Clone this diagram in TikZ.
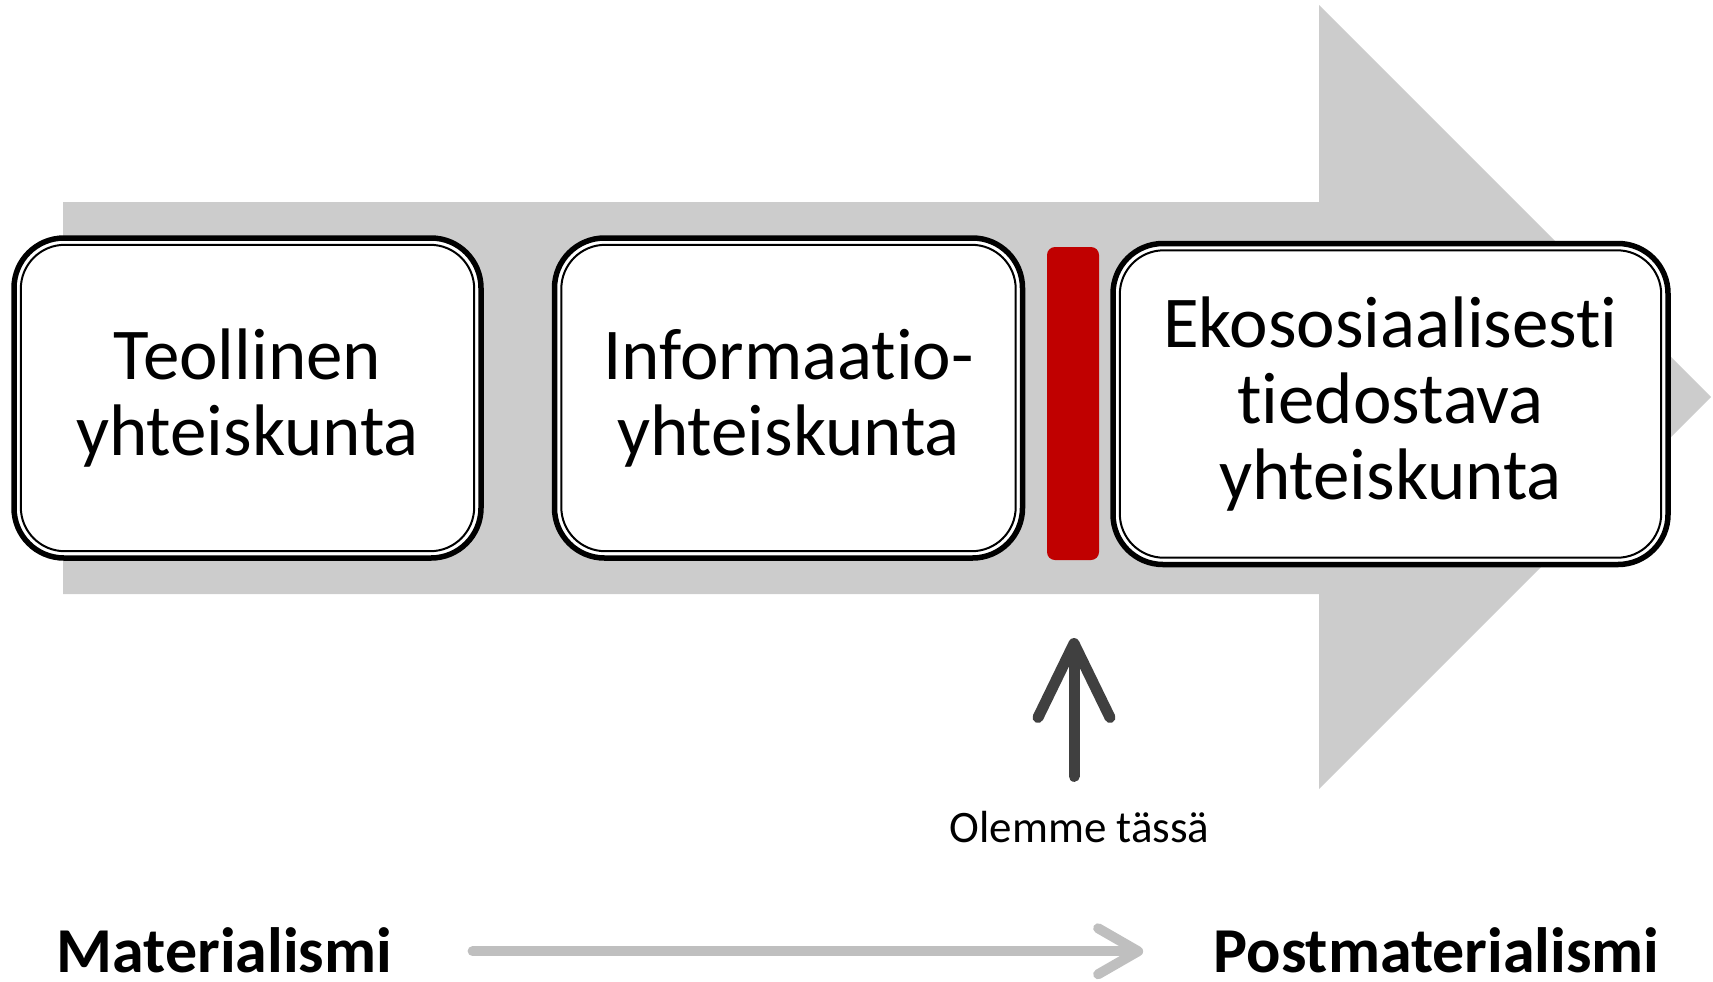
\documentclass[tikz,border=0pt]{standalone}
\usepackage{fontspec}
\setmainfont{Carlito}[Ligatures={NoCommon}]
\usetikzlibrary{arrows.meta}

\definecolor{bandgray}{HTML}{CCCCCC}
\definecolor{nowred}{HTML}{C00000}
\definecolor{heregray}{HTML}{404040}
\definecolor{linegray}{HTML}{BFBFBF}

\begin{document}
\begin{tikzpicture}[x=0.5pt,y=-0.5pt,
    stage/.style={draw=black,fill=white,line width=2.75pt,rounded corners=25pt,
                  outer sep=0pt,align=center,font=\fontsize{36.5}{38}\selectfont},
    inner line/.style={draw=black,line width=1pt,rounded corners=22pt},
    end label/.style={font=\fontsize{32}{34}\selectfont\bfseries,inner sep=0pt,
                      text height=20.75pt,text depth=0pt}]
  \useasboundingbox (0,0) rectangle (1713,981);
  \tikzstyle{here arrow}=[heregray,line width=5.5pt,line cap=round,
                          -{Straight Barb[length=37pt,width=36pt,round]}]
  \tikzstyle{time arrow}=[linegray,line width=5pt,line cap=round,
                          -{Straight Barb[length=20pt,width=23pt,round]}]

  % big grey arrow
  \fill[bandgray] (63,202) -- (1319,202) -- (1319,5) -- (1711,397)
                  -- (1319,789) -- (1319,594) -- (63,594) -- cycle;

  \node[stage,minimum width=233.5pt,minimum height=160pt] (T) at (247.5,398)
       {Teollinen\\yhteiskunta};
  \node[stage,minimum width=234pt,minimum height=160pt]   (I) at (788.5,398)
       {Informaatio-\\yhteiskunta};
  \node[stage,minimum width=277.5pt,minimum height=160.5pt] (E) at (1390.5,404)
       {Ekososiaalisesti\\tiedostava\\yhteiskunta};
  \foreach \b in {T,I,E}
    \draw[inner line] ([shift={(3.4pt,3.4pt)}]\b.south west)
                      rectangle ([shift={(-3.4pt,-3.4pt)}]\b.north east);

  \node[fill=nowred,rounded corners=4pt,minimum width=26pt,minimum height=156.5pt,
        inner sep=0pt] (now) at (1073,403.5) {};

  \node[font=\fontsize{22.5}{24}\selectfont,inner sep=0pt,anchor=base] (here text)
       at (1079.5,842) {Olemme tässä};
  \coordinate (here) at (1074,638);
  \draw[here arrow,shorten <=17pt] (here text.north -| here) -- (here);

  \node[end label,anchor=base] (mat) at (224.5,972) {Materialismi};
  \node[end label,anchor=base] (postmat) at (1436.5,972) {Postmaterialismi};
  \draw[time arrow,shorten <=40pt,shorten >=35pt] (mat.east) -- (postmat.west);
\end{tikzpicture}
\end{document}
